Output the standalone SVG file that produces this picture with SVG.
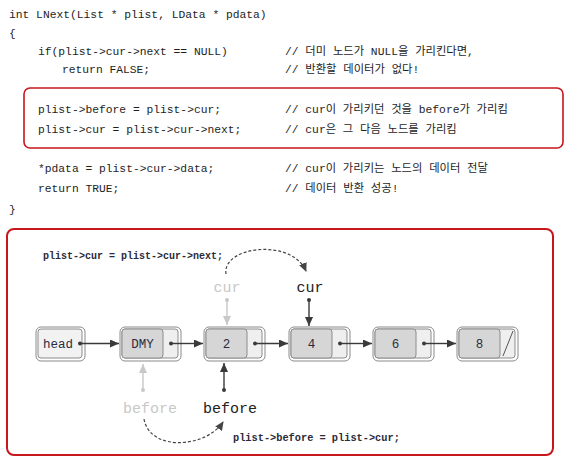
<svg xmlns="http://www.w3.org/2000/svg" width="568" height="465" viewBox="0 0 568 465">
<style>
.code{font-family:"Liberation Mono","Noto Sans CJK KR",monospace;font-size:11.3px;fill:#1e1e1e}
.lbl{font-family:"Liberation Mono",monospace;font-size:10px;font-weight:bold;fill:#2a2a3a}
.ptr{font-family:"Liberation Mono",monospace;font-size:15px}
.nt{font-family:"Liberation Mono",monospace;font-size:12.5px;fill:#2c2c40;text-anchor:middle}
.frame{fill:#fff;stroke:#8a8a8a;stroke-width:1}
.data{fill:#d6d6d6;stroke:#8c8c8c;stroke-width:1}
.pt{fill:#efefef;stroke:#8c8c8c;stroke-width:1}
.red{fill:none;stroke:#c8161d}
.ln{stroke:#3a3a3a;stroke-width:1.4;fill:none}
.gln{stroke:#c8c8c8;stroke-width:1.4;fill:none}
.dash{stroke:#444;stroke-width:1.2;fill:none;stroke-dasharray:3 2}
</style>
<defs>
<marker id="ah" markerUnits="userSpaceOnUse" markerWidth="10" markerHeight="8" refX="9" refY="4" orient="auto"><path d="M0,0 L9,4 L0,8 z" fill="#3a3a3a"/></marker>
<marker id="ahg" markerUnits="userSpaceOnUse" markerWidth="10" markerHeight="8" refX="9" refY="4" orient="auto"><path d="M0,0 L9,4 L0,8 z" fill="#c8c8c8"/></marker>
<marker id="ahd" markerUnits="userSpaceOnUse" markerWidth="10" markerHeight="8" refX="8" refY="4" orient="auto"><path d="M0,0 L9,4 L0,8 z" fill="#444"/></marker>
</defs>
<rect width="568" height="465" fill="#fff"/>

<g id="code">
<text class="code" x="9" y="18">int LNext(List * plist, LData * pdata)</text>
<text class="code" x="9" y="37">{</text>
<text class="code" x="38" y="55">if(plist-&gt;cur-&gt;next == NULL)</text>
<text class="code" x="285" y="55">// 더미 노드가 NULL을 가리킨다면,</text>
<text class="code" x="62" y="73">return FALSE;</text>
<text class="code" x="285" y="73">// 반환할 데이터가 없다!</text>
<rect class="red" x="24" y="88" width="539" height="60" rx="6" stroke-width="1.6"/>
<text class="code" x="38" y="113">plist-&gt;before = plist-&gt;cur;</text>
<text class="code" x="285" y="113">// cur이 가리키던 것을 before가 가리킴</text>
<text class="code" x="38" y="133">plist-&gt;cur = plist-&gt;cur-&gt;next;</text>
<text class="code" x="285" y="133">// cur은 그 다음 노드를 가리킴</text>
<text class="code" x="38" y="172">*pdata = plist-&gt;cur-&gt;data;</text>
<text class="code" x="285" y="172">// cur이 가리키는 노드의 데이터 전달</text>
<text class="code" x="38" y="192">return TRUE;</text>
<text class="code" x="285" y="192">// 데이터 반환 성공!</text>
<text class="code" x="9" y="213">}</text>
</g>

<rect class="red" x="7" y="229" width="546" height="226" rx="7" stroke-width="2"/>

<g id="label-cur"><text class="lbl" x="43" y="259">plist-&gt;cur = plist-&gt;cur-&gt;next;</text></g>
<g id="label-before"><text class="lbl" x="233" y="441" style="font-size:10.3px">plist-&gt;before = plist-&gt;cur;</text></g>

<g id="head">
<rect class="frame" x="36" y="327" width="49" height="34" rx="5"/>
<rect x="38" y="329" width="44" height="29" rx="3" fill="#f2f2f2" stroke="#8c8c8c"/>
<text class="nt" x="58" y="348">head</text>
</g>
<g id="node-dmy">
<rect class="frame" x="120" y="327" width="61" height="34" rx="5"/>
<rect class="pt" x="122" y="329" width="56" height="29" rx="3"/>
<rect class="data" x="122" y="329" width="41" height="29" rx="3"/>
<text class="nt" x="142.5" y="348">DMY</text>
</g>
<g id="node-2">
<rect class="frame" x="204" y="327" width="61" height="34" rx="5"/>
<rect class="pt" x="206" y="329" width="56" height="29" rx="3"/>
<rect class="data" x="206" y="329" width="41" height="29" rx="3"/>
<text class="nt" x="226.5" y="348">2</text>
</g>
<g id="node-4">
<rect class="frame" x="289" y="327" width="61" height="34" rx="5"/>
<rect class="pt" x="291" y="329" width="56" height="29" rx="3"/>
<rect class="data" x="291" y="329" width="41" height="29" rx="3"/>
<text class="nt" x="311.5" y="348">4</text>
</g>
<g id="node-6">
<rect class="frame" x="373" y="327" width="61" height="34" rx="5"/>
<rect class="pt" x="375" y="329" width="56" height="29" rx="3"/>
<rect class="data" x="375" y="329" width="41" height="29" rx="3"/>
<text class="nt" x="395.5" y="348">6</text>
</g>
<g id="node-8">
<rect class="frame" x="457" y="327" width="61" height="34" rx="5"/>
<rect class="pt" x="459" y="329" width="56" height="29" rx="3"/>
<rect class="data" x="459" y="329" width="41" height="29" rx="3"/>
<text class="nt" x="479.5" y="348">8</text>
<line x1="503" y1="356" x2="513" y2="331" stroke="#555" stroke-width="1"/>
</g>

<g id="ptr-cur-old"><text class="ptr" x="227" y="292" text-anchor="middle" fill="#c8c8c8">cur</text></g>
<g id="ptr-cur"><text class="ptr" x="310" y="292" text-anchor="middle" fill="#222">cur</text></g>
<g id="ptr-before-old"><text class="ptr" x="150" y="413" text-anchor="middle" fill="#c8c8c8">before</text></g>
<g id="ptr-before"><text class="ptr" x="230" y="413" text-anchor="middle" fill="#222">before</text></g>

<g id="connectors">
<circle cx="80" cy="343.5" r="2" fill="#3a3a3a"/>
<line class="ln" x1="80" y1="343.5" x2="119" y2="343.5" marker-end="url(#ah)"/>
<circle cx="171" cy="343.5" r="2" fill="#3a3a3a"/>
<line class="ln" x1="171" y1="343.5" x2="203" y2="343.5" marker-end="url(#ah)"/>
<circle cx="255" cy="343.5" r="2" fill="#3a3a3a"/>
<line class="ln" x1="255" y1="343.5" x2="288" y2="343.5" marker-end="url(#ah)"/>
<circle cx="340" cy="343.5" r="2" fill="#3a3a3a"/>
<line class="ln" x1="340" y1="343.5" x2="372" y2="343.5" marker-end="url(#ah)"/>
<circle cx="424" cy="343.5" r="2" fill="#3a3a3a"/>
<line class="ln" x1="424" y1="343.5" x2="456" y2="343.5" marker-end="url(#ah)"/>

<circle cx="227" cy="300" r="2" fill="#c8c8c8"/>
<line class="gln" x1="227" y1="300" x2="227" y2="325" marker-end="url(#ahg)"/>
<circle cx="309" cy="300" r="2" fill="#3a3a3a"/>
<line class="ln" x1="309" y1="300" x2="309" y2="326" marker-end="url(#ah)"/>

<circle cx="143" cy="390" r="2" fill="#c8c8c8"/>
<line class="gln" x1="143" y1="390" x2="143" y2="364" marker-end="url(#ahg)"/>
<circle cx="224" cy="390" r="2" fill="#3a3a3a"/>
<line class="ln" x1="224" y1="390" x2="224" y2="363" marker-end="url(#ah)"/>

<path class="dash" d="M226,274 C222,246 292,238 306,271" marker-end="url(#ahd)"/>
<path class="dash" d="M144,419 C150,452 206,448 223,422" marker-end="url(#ahd)"/>
</g>
</svg>
